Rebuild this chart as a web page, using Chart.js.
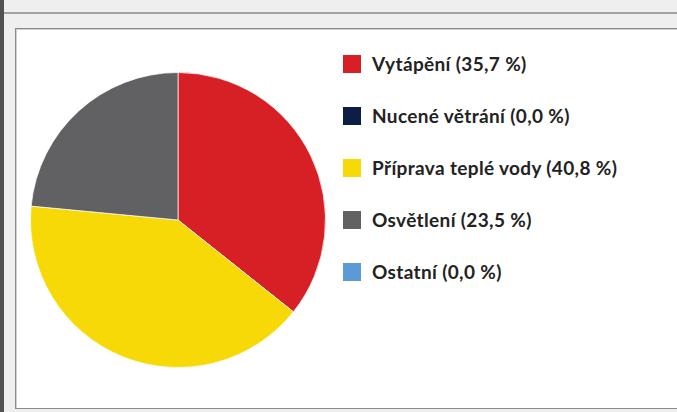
<!DOCTYPE html>
<html lang="cs">
<head>
<meta charset="utf-8">
<script src="https://cdn.jsdelivr.net/npm/chart.js@4.4.0/dist/chart.umd.min.js"></script>
<style>
    body { margin: 0; width: 677px; height: 412px; background: #eeefee; position: relative; overflow: hidden; font-family: Lato, "Open Sans", sans-serif; }
    #bar { position: absolute; left: 0; top: 0; width: 4px; height: 412px; background: #525252; }
    #rule { position: absolute; left: 4px; top: 12px; right: 0; height: 2px; background: #a2a4a3; }
    #panel { position: absolute; left: 15px; top: 28px; width: 700px; height: 379px; background: #fff; border: 1px solid #8a8a8a; box-shadow: inset 1px 1px 0 #d0d0d0; }
    #pie { position: absolute; left: 20px; top: 60px; }
    #legend { position: absolute; left: 343px; top: 55px; }
    .row { position: absolute; left: 0; width: 320px; height: 18px; }
    .box { position: absolute; left: 0; top: 0; width: 18px; height: 18px; }
    .lbl { position: absolute; left: 29px; top: -1px; font-weight: 700; font-size: 19px; letter-spacing: 0.35px; line-height: 20px; color: #222; white-space: nowrap; }
</style>
</head>
<body>
<div id="bar"></div>
<div id="rule"></div>
<div id="panel"></div>
<canvas id="pie" width="320" height="320"></canvas>
<div id="legend"></div>
<script>
const labels = ['Vytápění', 'Nucené větrání', 'Příprava teplé vody', 'Osvětlení', 'Ostatní'];
const shares = [35.7, 0.0, 40.8, 23.5, 0.0];
const colors = ['#d71f26', '#0c1e45', '#f7d908', '#616163', '#5a9bd5'];

// legenda vedle grafu
const legend = document.getElementById('legend');
labels.forEach((name, i) => {
    const row = document.createElement('div');
    row.className = 'row';
    row.style.top = (i * 51.9) + 'px';
    row.innerHTML = '<div class="box" style="background:' + colors[i] + '"></div>'
        + '<div class="lbl">' + name + ' (' + shares[i].toFixed(1).replace('.', ',') + ' %)</div>';
    legend.appendChild(row);
});

const ctx = document.getElementById('pie').getContext('2d');
const pieChart = new Chart(ctx, {
    type: 'pie',
    data: {
        labels: labels,
        datasets: [{
            data: shares,
            backgroundColor: colors,
            borderColor: 'rgba(255, 255, 255, 0.7)',
            borderWidth: shares.map(v => v > 0 ? 1 : 0)
        }]
    },
    options: {
        responsive: false,
        animation: false,
        layout: { padding: { top: 12, bottom: 12, left: 0, right: 4 } },
        plugins: {
            legend: { display: false },
            tooltip: { enabled: false }
        }
    }
});
</script>
</body>
</html>
